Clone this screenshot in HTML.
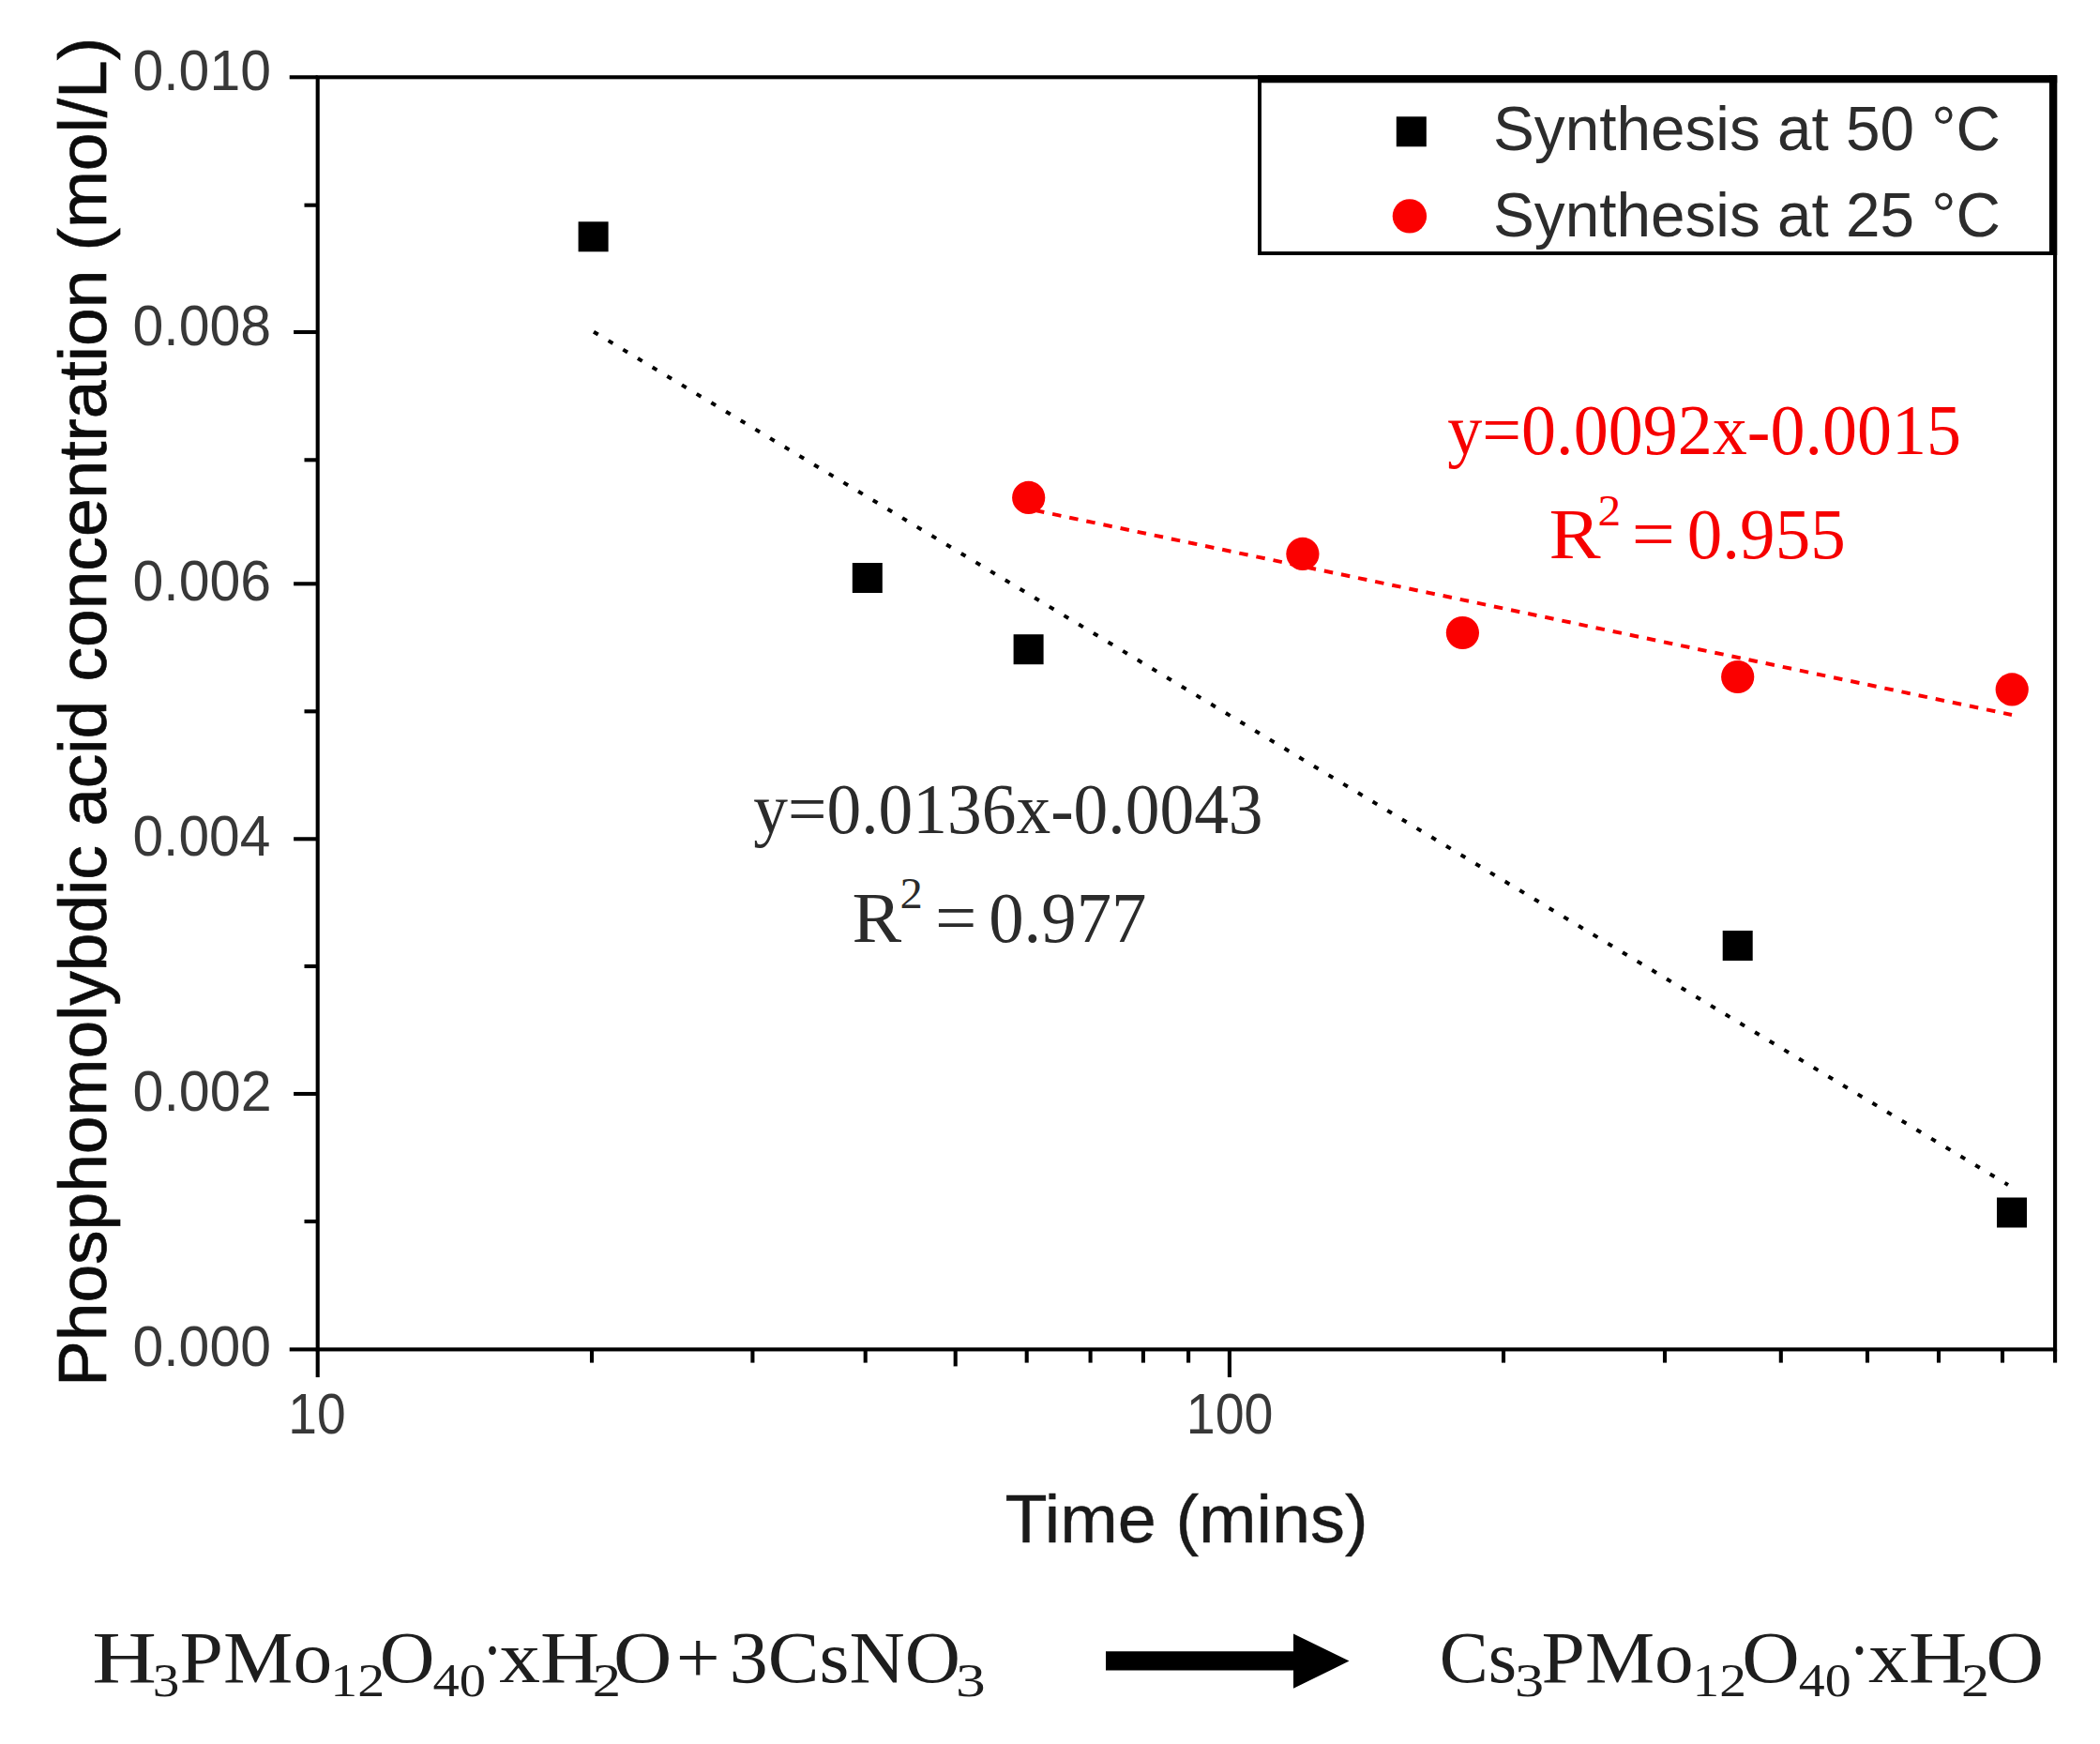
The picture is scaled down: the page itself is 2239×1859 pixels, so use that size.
<!DOCTYPE html>
<html lang="en"><head><meta charset="utf-8"><title>Phosphomolybdic acid concentration vs time</title>
<style>
html,body{margin:0;padding:0;background:#fff;}
body{width:2239px;height:1859px;overflow:hidden;}
svg{display:block;}
.sans{font-family:"Liberation Sans",Arial,Helvetica,sans-serif;}
.serif{font-family:"Liberation Serif","Times New Roman",serif;}
.axl{font-size:73px;fill:#0c0c0c;stroke:#0c0c0c;stroke-width:.7px;}
.axx{font-size:72px;fill:#1a1a1a;stroke:#1a1a1a;stroke-width:.4px;}
.leg{font-size:66px;fill:#2c2c2c;}
</style></head><body>
<svg width="2239" height="1859" viewBox="0 0 2239 1859">
<rect width="2239" height="1859" fill="#fff"/>
<g stroke="#000" stroke-width="4.1" fill="none" stroke-linecap="butt">
<rect x="338.7" y="82.3" width="1852.4" height="1356.1"/>
<line x1="308.7" y1="1438.4" x2="338.7" y2="1438.4"/>
<line x1="324.5" y1="1302.0" x2="338.7" y2="1302.0"/>
<line x1="313.1" y1="1166.0" x2="338.7" y2="1166.0"/>
<line x1="324.5" y1="1030.0" x2="338.7" y2="1030.0"/>
<line x1="313.1" y1="894.3" x2="338.7" y2="894.3"/>
<line x1="324.5" y1="758.3" x2="338.7" y2="758.3"/>
<line x1="313.1" y1="622.3" x2="338.7" y2="622.3"/>
<line x1="324.5" y1="490.3" x2="338.7" y2="490.3"/>
<line x1="313.1" y1="354.0" x2="338.7" y2="354.0"/>
<line x1="324.5" y1="218.7" x2="338.7" y2="218.7"/>
<line x1="308.7" y1="82.3" x2="338.7" y2="82.3"/>
<line x1="338.7" y1="1438.4" x2="338.7" y2="1468.1"/>
<line x1="631.0" y1="1438.4" x2="631.0" y2="1452.6"/>
<line x1="802.4" y1="1438.4" x2="802.4" y2="1452.6"/>
<line x1="922.7" y1="1438.4" x2="922.7" y2="1452.6"/>
<line x1="1018.7" y1="1438.4" x2="1018.7" y2="1456.4"/>
<line x1="1094.7" y1="1438.4" x2="1094.7" y2="1452.6"/>
<line x1="1162.6" y1="1438.4" x2="1162.6" y2="1452.6"/>
<line x1="1218.9" y1="1438.4" x2="1218.9" y2="1452.6"/>
<line x1="1267.1" y1="1438.4" x2="1267.1" y2="1452.6"/>
<line x1="1310.9" y1="1438.4" x2="1310.9" y2="1468.1"/>
<line x1="1603.0" y1="1438.4" x2="1603.0" y2="1452.6"/>
<line x1="1775.0" y1="1438.4" x2="1775.0" y2="1452.6"/>
<line x1="1898.8" y1="1438.4" x2="1898.8" y2="1452.6"/>
<line x1="1991.0" y1="1438.4" x2="1991.0" y2="1452.6"/>
<line x1="2067.0" y1="1438.4" x2="2067.0" y2="1452.6"/>
<line x1="2135.0" y1="1438.4" x2="2135.0" y2="1452.6"/>
<line x1="2191.1" y1="1438.4" x2="2191.1" y2="1452.6"/>
</g>
<g class="sans" fill="#383838">
<text class="t" style="font-size:60.5px" x="141.5" y="1456.3" textLength="147.4" lengthAdjust="spacingAndGlyphs">0.000</text>
<text class="t" style="font-size:60.5px" x="141.5" y="1184.2" textLength="148.1" lengthAdjust="spacingAndGlyphs">0.002</text>
<text class="t" style="font-size:60.5px" x="141.5" y="912.1" textLength="146.8" lengthAdjust="spacingAndGlyphs">0.004</text>
<text class="t" style="font-size:60.5px" x="141.5" y="640.1" textLength="147.7" lengthAdjust="spacingAndGlyphs">0.006</text>
<text class="t" style="font-size:60.5px" x="141.5" y="368.0" textLength="147.7" lengthAdjust="spacingAndGlyphs">0.008</text>
<text class="t" style="font-size:60.5px" x="141.5" y="95.9" textLength="147.4" lengthAdjust="spacingAndGlyphs">0.010</text>
<text class="t" style="font-size:60.5px" x="307.3" y="1528.2" textLength="61.4" lengthAdjust="spacingAndGlyphs">10</text>
<text class="t" style="font-size:60.5px" x="1264.8" y="1528.2" textLength="92.7" lengthAdjust="spacingAndGlyphs">100</text>
</g>
<text class="sans axx" x="1071.5" y="1644.3" textLength="387" lengthAdjust="spacingAndGlyphs">Time (mins)</text>
<text class="sans axl" transform="translate(112.6 1478) rotate(-90)" x="0" y="0" textLength="1438" lengthAdjust="spacingAndGlyphs">Phosphomolybdic acid concentration (mol/L)</text>
<line x1="633" y1="353.7" x2="2141" y2="1263" stroke="#000" stroke-width="4" stroke-dasharray="5.5 12.8"/>
<line x1="1104" y1="544.1" x2="2145" y2="762" stroke="#fb0000" stroke-width="4" stroke-dasharray="9.5 9"/>
<rect x="616.6" y="236.3" width="32" height="32" fill="#000"/>
<rect x="908.8" y="600.0" width="32" height="32" fill="#000"/>
<rect x="1080.6" y="676.2" width="32" height="32" fill="#000"/>
<rect x="1836.7" y="992.0" width="32" height="32" fill="#000"/>
<rect x="2129.0" y="1276.5" width="32" height="32" fill="#000"/>
<circle cx="1096.7" cy="530.4" r="17.6" fill="#fb0000"/>
<circle cx="1388.9" cy="590.4" r="17.6" fill="#fb0000"/>
<circle cx="1559.4" cy="674.5" r="17.6" fill="#fb0000"/>
<circle cx="1852.7" cy="721.5" r="17.6" fill="#fb0000"/>
<circle cx="2145.2" cy="734.9" r="17.6" fill="#fb0000"/>
<rect x="1343" y="84.7" width="846" height="185.3" fill="#fff" stroke="#000" stroke-width="3.9"/>
<rect x="1341" y="80.3" width="852.2" height="8" fill="#000"/>
<rect x="2184.9" y="80.3" width="8.3" height="191.7" fill="#000"/>
<rect x="1488.8" y="124.3" width="32" height="32" fill="#000"/>
<circle cx="1502.9" cy="230.4" r="18.2" fill="#fb0000"/>
<text class="sans leg" x="1592" y="160" textLength="541" lengthAdjust="spacingAndGlyphs">Synthesis at 50 °C</text>
<text class="sans leg" x="1592" y="251.5" textLength="541" lengthAdjust="spacingAndGlyphs">Synthesis at 25 °C</text>
<text class="serif" font-size="76.5" fill="#2b2b2b" xml:space="preserve"><tspan x="803.3" y="887.8" textLength="543.3" lengthAdjust="spacingAndGlyphs">y=0.0136x-0.0043</tspan></text>
<text class="serif" font-size="76.5" fill="#2b2b2b" xml:space="preserve"><tspan x="908.6" y="1003.6" textLength="52.7" lengthAdjust="spacingAndGlyphs">R</tspan><tspan x="959.4" y="967.6" font-size="45.5" textLength="24.3" lengthAdjust="spacingAndGlyphs">2</tspan><tspan> </tspan><tspan x="996.9" y="1003.6" textLength="44.4" lengthAdjust="spacingAndGlyphs">=</tspan><tspan> </tspan><tspan x="1054.2" y="1003.6" textLength="168.2" lengthAdjust="spacingAndGlyphs">0.977</tspan></text>
<text class="serif" font-size="76.5" fill="#f60000" xml:space="preserve"><tspan x="1543.3" y="483.8" textLength="547.8" lengthAdjust="spacingAndGlyphs">y=0.0092x-0.0015</tspan></text>
<text class="serif" font-size="76.5" fill="#f60000" xml:space="preserve"><tspan x="1651.5" y="595.0" textLength="55.1" lengthAdjust="spacingAndGlyphs">R</tspan><tspan x="1703.5" y="560.0" font-size="45.5" textLength="24.7" lengthAdjust="spacingAndGlyphs">2</tspan><tspan> </tspan><tspan x="1739.7" y="595.0" textLength="46.2" lengthAdjust="spacingAndGlyphs">=</tspan><tspan> </tspan><tspan x="1798.8" y="595.0" textLength="168.9" lengthAdjust="spacingAndGlyphs">0.955</tspan></text>
<text class="serif" font-size="78.5" fill="#1e1e1e" xml:space="preserve"><tspan x="98.3" y="1792.6" textLength="68.7" lengthAdjust="spacingAndGlyphs">H</tspan><tspan x="162.7" y="1807.5" font-size="51" textLength="28.6" lengthAdjust="spacingAndGlyphs">3</tspan><tspan x="191.6" y="1792.6" textLength="162.6" lengthAdjust="spacingAndGlyphs">PMo</tspan><tspan x="352.3" y="1807.5" font-size="51" textLength="57.9" lengthAdjust="spacingAndGlyphs">12</tspan><tspan x="404.7" y="1792.6" textLength="58.7" lengthAdjust="spacingAndGlyphs">O</tspan><tspan x="461.5" y="1807.5" font-size="51" textLength="56.6" lengthAdjust="spacingAndGlyphs">40</tspan><tspan x="514.1" y="1784.6" textLength="22.0" lengthAdjust="spacingAndGlyphs">·</tspan><tspan x="532.2" y="1792.6" textLength="107.0" lengthAdjust="spacingAndGlyphs">xH</tspan><tspan x="631.8" y="1807.5" font-size="51" textLength="30.3" lengthAdjust="spacingAndGlyphs">2</tspan><tspan x="653.9" y="1792.6" textLength="62.4" lengthAdjust="spacingAndGlyphs">O</tspan><tspan> </tspan><tspan x="720.8" y="1792.6" textLength="47.0" lengthAdjust="spacingAndGlyphs">+</tspan><tspan> </tspan><tspan x="777.8" y="1792.6" textLength="246.2" lengthAdjust="spacingAndGlyphs">3CsNO</tspan><tspan x="1019.0" y="1807.5" font-size="51" textLength="31.7" lengthAdjust="spacingAndGlyphs">3</tspan></text>
<text class="serif" font-size="78.5" fill="#1e1e1e" xml:space="preserve"><tspan x="1534.8" y="1792.6" textLength="82.4" lengthAdjust="spacingAndGlyphs">Cs</tspan><tspan x="1614.9" y="1807.5" font-size="51" textLength="31.1" lengthAdjust="spacingAndGlyphs">3</tspan><tspan x="1643.6" y="1792.6" textLength="162.2" lengthAdjust="spacingAndGlyphs">PMo</tspan><tspan x="1804.6" y="1807.5" font-size="51" textLength="57.5" lengthAdjust="spacingAndGlyphs">12</tspan><tspan x="1857.2" y="1792.6" textLength="61.5" lengthAdjust="spacingAndGlyphs">O</tspan><tspan x="1917.7" y="1807.5" font-size="51" textLength="55.9" lengthAdjust="spacingAndGlyphs">40</tspan><tspan x="1971.3" y="1784.6" textLength="22.5" lengthAdjust="spacingAndGlyphs">·</tspan><tspan x="1991.9" y="1792.6" textLength="105.3" lengthAdjust="spacingAndGlyphs">xH</tspan><tspan x="2090.9" y="1807.5" font-size="51" textLength="30.1" lengthAdjust="spacingAndGlyphs">2</tspan><tspan x="2117.5" y="1792.6" textLength="61.6" lengthAdjust="spacingAndGlyphs">O</tspan></text>
<polygon points="1179,1760.3 1379,1760.3 1379,1741.4 1438.5,1770.6 1379,1799.8 1379,1780.4 1179,1780.4" fill="#000"/>
</svg>
</body></html>
